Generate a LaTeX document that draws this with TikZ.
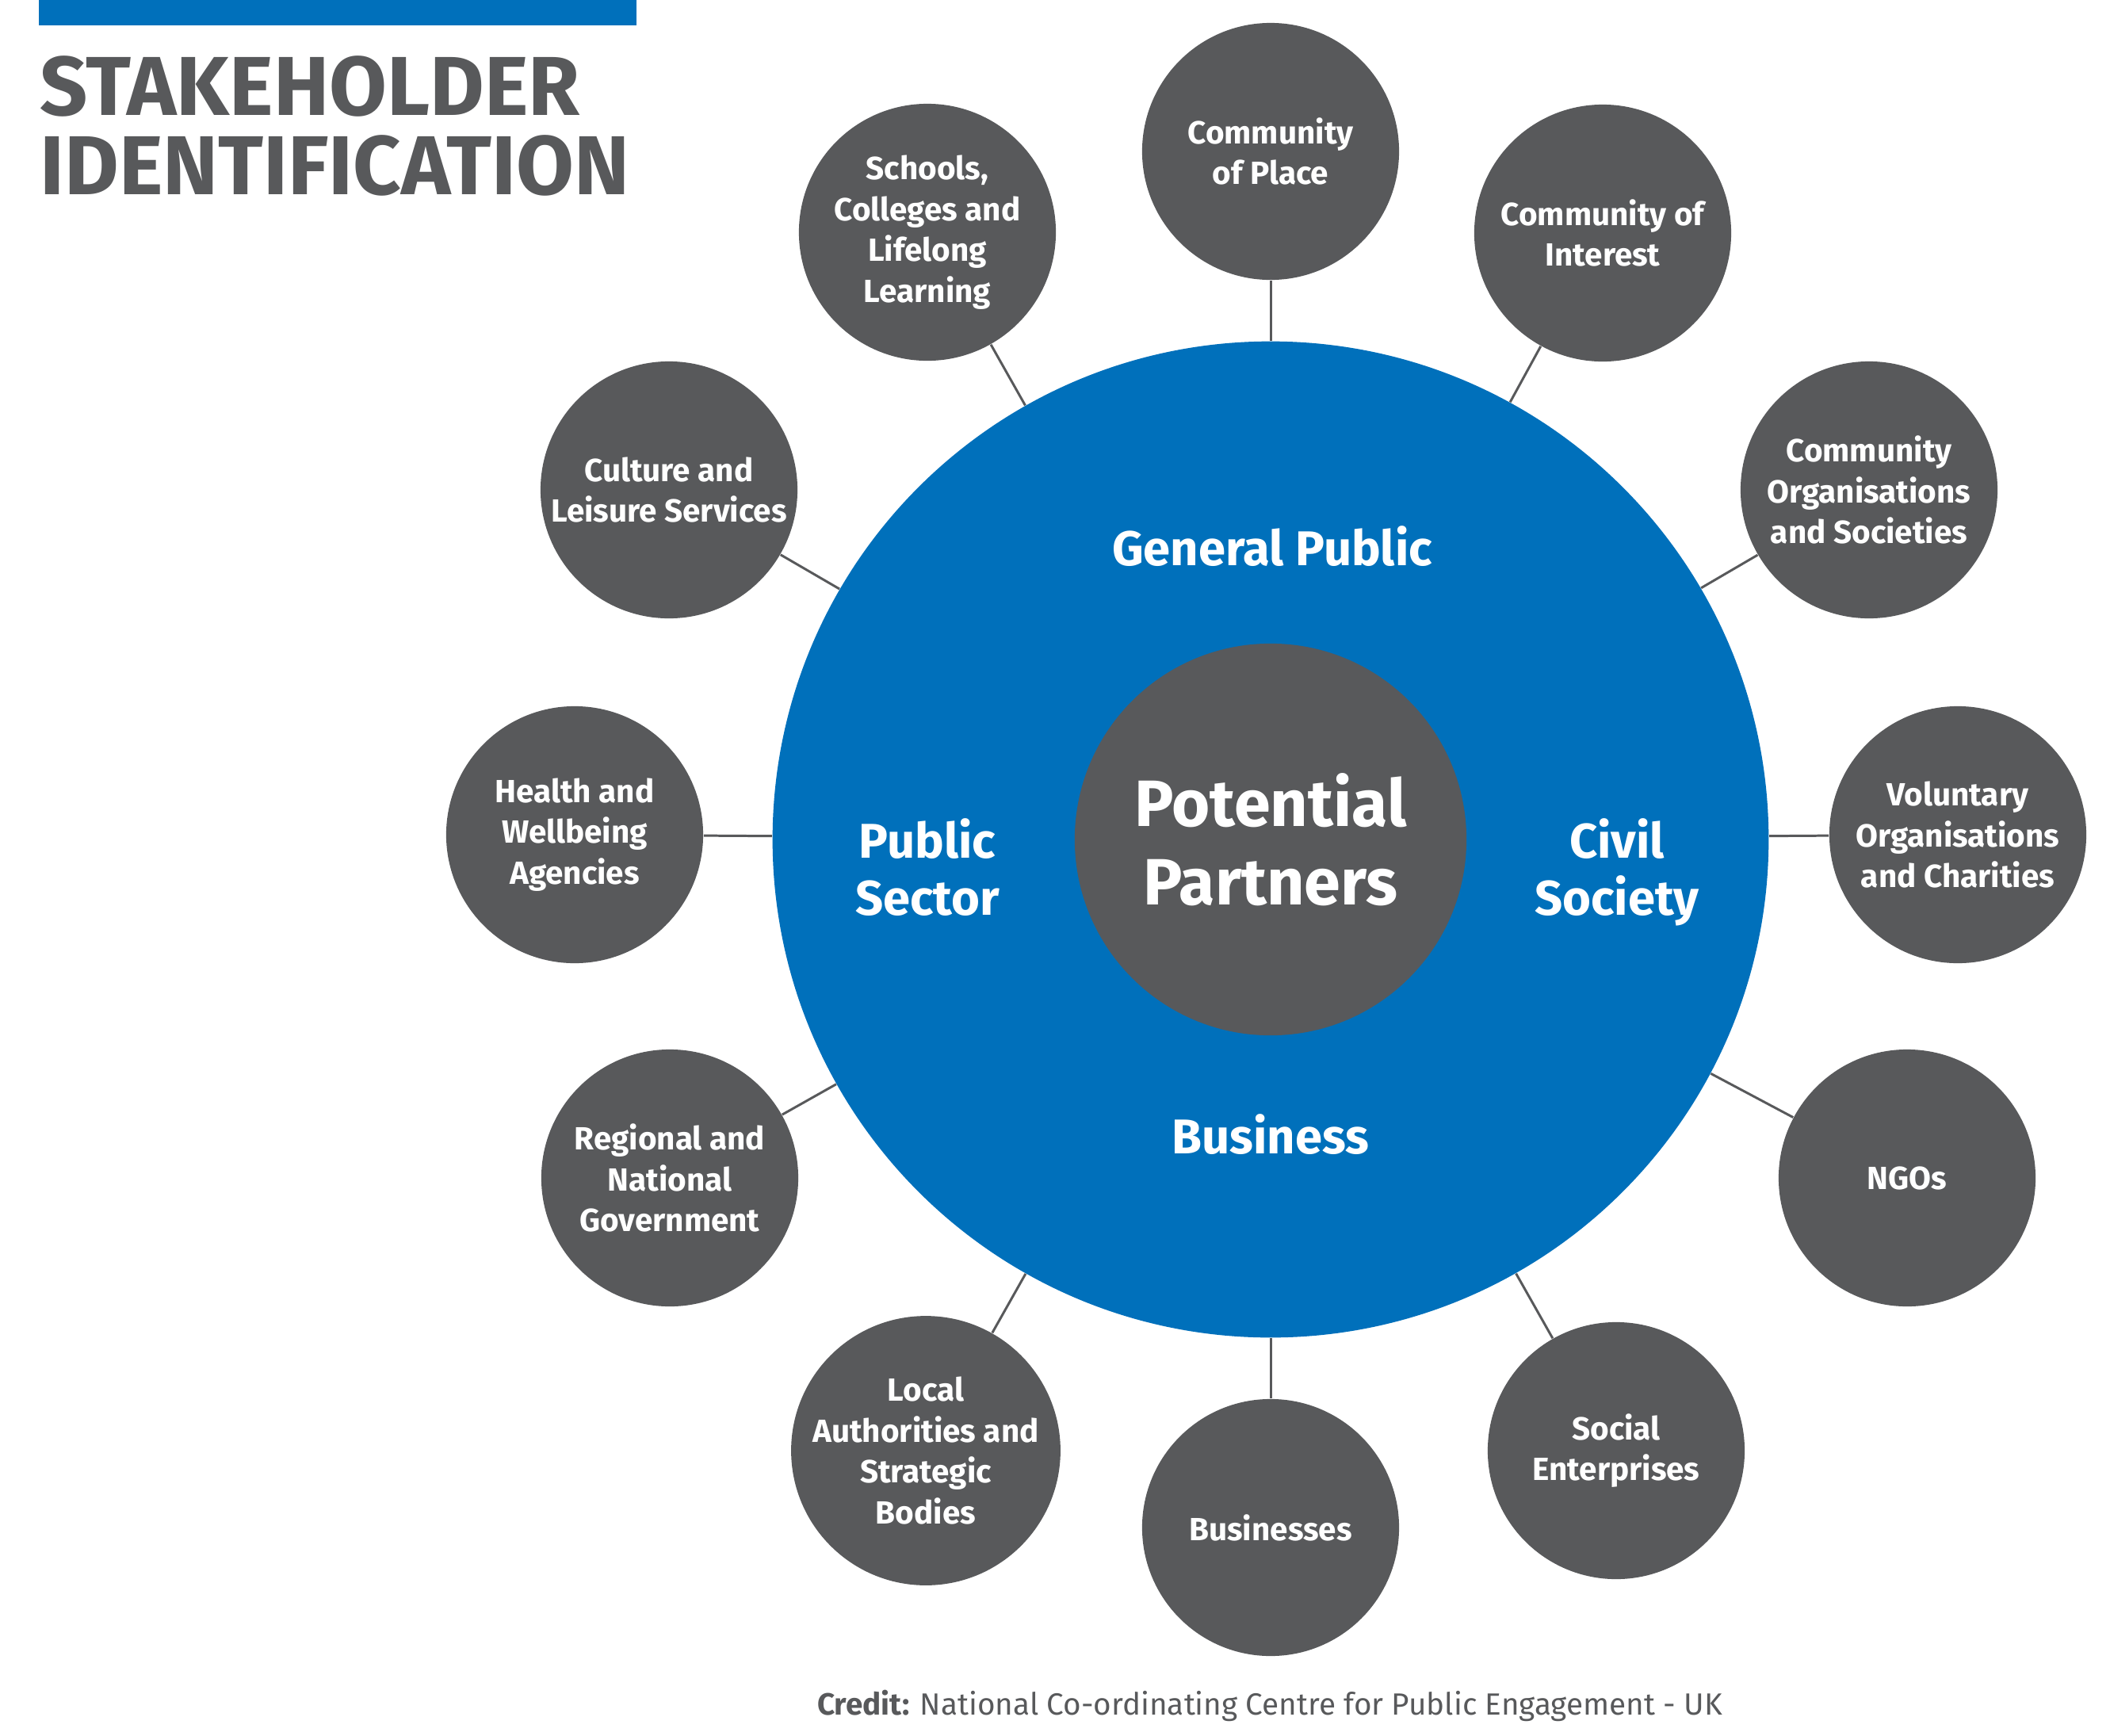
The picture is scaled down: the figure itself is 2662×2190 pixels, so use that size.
\documentclass[tikz,border=0pt]{standalone}
\usepackage{fontspec}
\setmainfont{Fira Sans}
\usetikzlibrary{positioning}
\definecolor{nccblue}{RGB}{0,112,187}
\definecolor{slate}{RGB}{88,89,91}

\begin{document}
\begin{tikzpicture}[x=0.01cm,y=-0.01cm,
group/.style={circle,fill=slate,text=white,inner sep=0pt,minimum size=3.24cm,align=center,font=\bfseries\fontsize{11.5}{14.7}\selectfont},
sector/.style={text=white,inner sep=0pt,align=center,font=\bfseries\fontsize{17.5}{20.5}\selectfont},
link/.style={draw=slate,line width=0.85pt}]
\useasboundingbox (0,0) rectangle (2662,2190);
\fill[nccblue] (49,0) rectangle (803,32);
\node[anchor=north west,inner sep=0pt,text=slate,align=left,font=\bfseries\fontsize{30}{28.45}\selectfont] (title) at (50,70) {STAKEHOLDER\\IDENTIFICATION};
\node[circle,fill=nccblue,minimum size=12.56cm,inner sep=0pt] (ring) at (1603,1059) {};
\node[circle,fill=slate,text=white,minimum size=4.94cm,inner sep=0pt,align=center,font=\bfseries\fontsize{23.5}{28}\selectfont] (partners) at (1603,1059) {Potential\\Partners};
\node[sector] (genpub) at (1605,689) {General Public};
\node[sector] (pubsec) at (1170,1094) {Public\\Sector};
\node[sector] (civsoc) at (2040,1100) {Civil\\Society};
\node[sector] (biz) at (1603,1431) {Business};
\node[group] (place) at (1603,191) {Community\\of Place};
\node[group] (interest) at (2022,294) {Community of\\Interest};
\node[group] (commorg) at (2358,618) {Community\\Organisations\\and Societies};
\node[group] (voluntary) at (2470,1053) {Voluntary\\Organisations\\and Charities};
\node[group] (ngos) at (2406,1486) {NGOs};
\node[group] (social) at (2039,1830) {Social\\Enterprises};
\node[group] (businesses) at (1603,1927) {Businesses};
\node[group] (local) at (1168,1830) {Local\\Authorities and\\Strategic\\Bodies};
\node[group] (regional) at (845,1486) {Regional and\\National\\Government};
\node[group] (health) at (725,1053) {Health and\\Wellbeing\\Agencies};
\node[group] (culture) at (844,618) {Culture and\\Leisure Services};
\node[group] (schools) at (1170,293) {Schools,\\Colleges and\\Lifelong\\Learning};
\draw[link] (ring) -- (place);
\draw[link] (ring) -- (interest);
\draw[link] (ring) -- (commorg);
\draw[link] (ring) -- (voluntary);
\draw[link] (ring) -- (ngos);
\draw[link] (ring) -- (social);
\draw[link] (ring) -- (businesses);
\draw[link] (ring) -- (local);
\draw[link] (ring) -- (regional);
\draw[link] (ring) -- (health);
\draw[link] (ring) -- (culture);
\draw[link] (ring) -- (schools);
\node[anchor=base,inner sep=0pt,text=slate,font=\fontsize{11}{13}\selectfont] (credit) at (1602,2163) {\textbf{Credit:} National Co-ordinating Centre for Public Engagement - UK};
\end{tikzpicture}
\end{document}
